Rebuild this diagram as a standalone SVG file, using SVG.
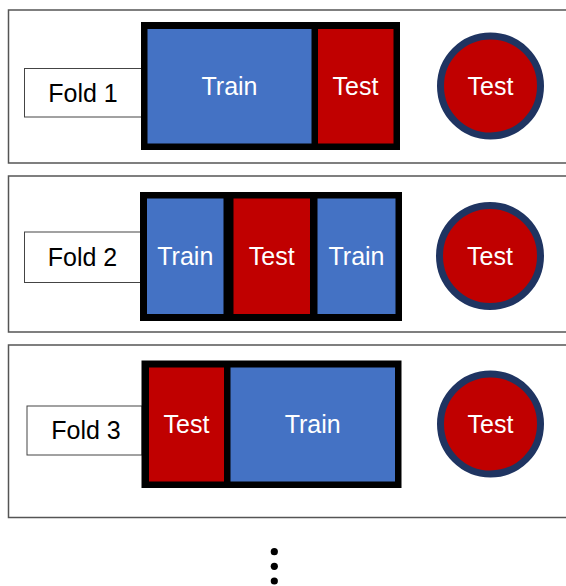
<svg xmlns="http://www.w3.org/2000/svg" width="566" height="586" viewBox="0 0 566 586">
<style>
.panel{fill:#fff;stroke:#555;stroke-width:1.5}
.lbl{fill:#fff;stroke:#444;stroke-width:1}
.frame{fill:#000}
.train{fill:#4472C4}
.test{fill:#C00000}
.ring{fill:#C00000;stroke:#1F3461;stroke-width:7}
text{font-family:"Liberation Sans",Arial,sans-serif;font-size:25px;text-anchor:middle}
.w{fill:#fff}
.k{fill:#000}
</style>
<rect width="566" height="586" fill="#fff"/>
<g id="fold1">
<rect class="panel" x="8.5" y="10" width="570" height="153"/>
<rect class="lbl" x="24.5" y="68.5" width="117" height="48.5"/>
<text class="k" x="83" y="101.5">Fold 1</text>
<rect class="frame" x="141" y="22" width="259" height="128"/>
<rect class="train" x="147.5" y="29" width="164" height="114.5"/>
<rect class="test" x="318" y="29" width="75.5" height="114.5"/>
<text class="w" x="229.5" y="95">Train</text>
<text class="w" x="355.5" y="95">Test</text>
<circle class="ring" cx="490.5" cy="86" r="50"/>
<text class="w" x="490.5" y="95">Test</text>
</g>
<g id="fold2">
<rect class="panel" x="8.5" y="176" width="570" height="156"/>
<rect class="lbl" x="24.5" y="232" width="116" height="50.5"/>
<text class="k" x="82.5" y="266">Fold 2</text>
<rect class="frame" x="140" y="192" width="262" height="129"/>
<rect class="train" x="147" y="198.5" width="76.5" height="115.5"/>
<rect class="test" x="233.5" y="198.5" width="76.5" height="115.5"/>
<rect class="train" x="317.5" y="198.5" width="78" height="115.5"/>
<text class="w" x="185.3" y="265">Train</text>
<text class="w" x="271.8" y="265">Test</text>
<text class="w" x="356.5" y="265">Train</text>
<circle class="ring" cx="490" cy="256" r="50.5"/>
<text class="w" x="490" y="265">Test</text>
</g>
<g id="fold3">
<rect class="panel" x="8.5" y="345" width="570" height="172.5"/>
<rect class="lbl" x="27" y="406" width="115" height="49"/>
<text class="k" x="86" y="439">Fold 3</text>
<rect class="frame" x="141.5" y="360.5" width="260" height="127.5"/>
<rect class="test" x="149" y="367.5" width="75" height="114"/>
<rect class="train" x="230.5" y="367.5" width="164.5" height="114"/>
<text class="w" x="186.5" y="433">Test</text>
<text class="w" x="312.7" y="433">Train</text>
<circle class="ring" cx="490.5" cy="424" r="50"/>
<text class="w" x="490.5" y="433">Test</text>
</g>
<g id="ellipsis">
<circle cx="274.3" cy="551.7" r="3.6" fill="#000"/>
<circle cx="274.3" cy="566.3" r="3.6" fill="#000"/>
<circle cx="274.3" cy="581" r="3.6" fill="#000"/>
</g>
<g id="connectors"></g>
</svg>
